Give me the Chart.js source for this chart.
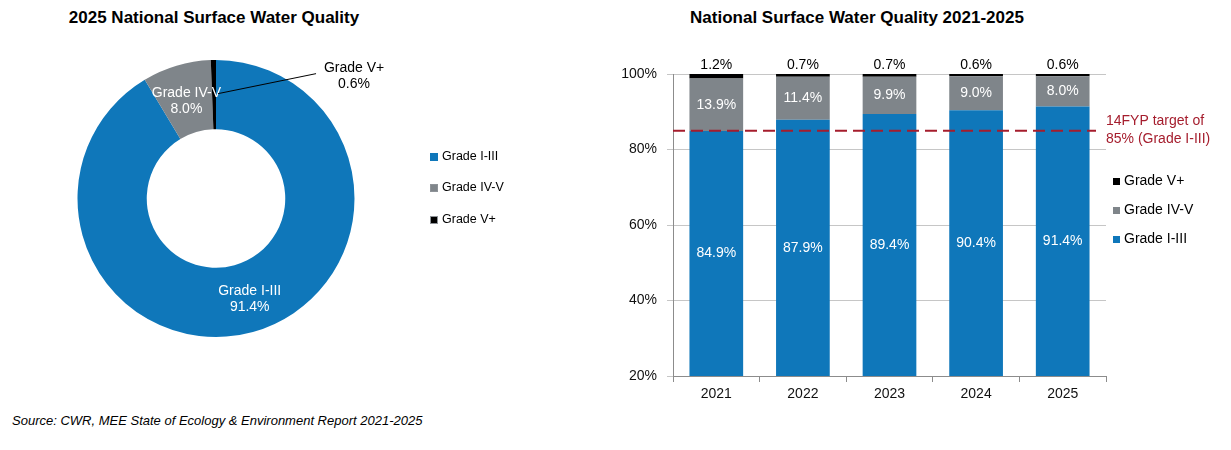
<!DOCTYPE html>
<html>
<head>
<meta charset="utf-8">
<script src="https://cdn.jsdelivr.net/npm/chart.js@4.4.1/dist/chart.umd.min.js"></script>
<style>
  html, body { margin: 0; padding: 0; background: #fff; }
  body { width: 1231px; height: 450px; position: relative; overflow: hidden;
         font-family: "Liberation Sans", Arial, sans-serif; color: #000; }
  .title { position: absolute; top: 8px; font-weight: bold; font-size: 17px; line-height: 20px; text-align: center; }
  .box { position: absolute; }
  .legend { position: absolute; font-size: 12.5px; line-height: 14px; }
  .legend .item { position: absolute; white-space: nowrap; }
  .legend .mark { display: inline-block; vertical-align: middle; margin-right: 4px; box-sizing: border-box; }
  .source { position: absolute; left: 12px; top: 413px; font-size: 13px; font-style: italic; }
</style>
</head>
<body>
<div class="title" style="left:14px;width:400px;">2025 National Surface Water Quality</div>
<div class="title" style="left:657px;width:400px;">National Surface Water Quality 2021-2025</div>

<div class="box" style="left:0;top:40px;width:432px;height:320px;"><canvas id="donut"></canvas></div>
<div class="box" style="left:600px;top:40px;width:631px;height:410px;"><canvas id="bars"></canvas></div>

<div class="legend" id="donutLegend" style="left:430px;top:0;"></div>
<div class="legend" id="barLegend" style="left:1113px;top:0;font-size:14px;"></div>

<div class="source">Source: CWR, MEE State of Ecology &amp; Environment Report 2021-2025</div>

<script>
// data
const grades = ['Grade I-III', 'Grade IV-V', 'Grade V+']
const share2025 = [91.4, 8.0, 0.6]

const years = ['2021', '2022', '2023', '2024', '2025']
const gradeI_III = [84.9, 87.9, 89.4, 90.4, 91.4]
const gradeIV_V = [13.9, 11.4, 9.9, 9.0, 8.0]
const gradeVplus = [1.2, 0.7, 0.7, 0.6, 0.6]

const targetValue = 85
const targetLines = ['14FYP target of', '85% (Grade I-III)']

const blue = '#0F77BA'
const grey = '#7F858A'
const black = '#000000'
const targetRed = '#A51D2D'
const font = '"Liberation Sans", Arial, sans-serif'

// html legends
function buildLegend(el, items, tops, size) {
  items.forEach((it, i) => {
    const d = document.createElement('div')
    d.className = 'item'
    d.style.top = (tops[i] - 7) + 'px'
    d.innerHTML = '<span class="mark" style="width:' + size + 'px;height:' + size + 'px;background:' +
      it.color + ';' + (it.border ? 'border:1px solid ' + it.border + ';' : '') + '"></span>' + it.label
    el.appendChild(d)
  })
}

buildLegend(document.getElementById('donutLegend'), [
  { label: grades[0], color: blue },
  { label: grades[1], color: grey, border: '#8e9398' },
  { label: grades[2], color: black, border: '#8e9398' }
], [156, 187, 219], 8)

buildLegend(document.getElementById('barLegend'), [
  { label: grades[2], color: black },
  { label: grades[1], color: grey },
  { label: grades[0], color: blue }
], [180, 209, 238], 7)

// donut labels
const donutLabels = {
  id: 'donutLabels',
  afterDatasetsDraw(chart) {
    const ctx = chart.ctx
    const arcs = chart.getDatasetMeta(0).data
    ctx.save()
    ctx.font = '14px ' + font
    ctx.textAlign = 'center'
    ctx.textBaseline = 'middle'
    arcs.forEach((arc, i) => {
      const p = arc.getCenterPoint()
      const pct = share2025[i].toFixed(1) + '%'
      if (i < 2) {
        const dx = i === 0 ? 6 : 0
        const dy = i === 0 ? 0 : 1
        ctx.fillStyle = '#ffffff'
        ctx.fillText(grades[i], p.x + dx, p.y - 7 + dy)
        ctx.fillText(pct, p.x + dx, p.y + 9 + dy)
      } else {
        ctx.strokeStyle = '#000'
        ctx.lineWidth = 1
        ctx.beginPath()
        ctx.moveTo(p.x + 4, p.y - 1)
        ctx.lineTo(p.x + 102, p.y - 21)
        ctx.stroke()
        ctx.fillStyle = '#000'
        ctx.fillText(grades[i], p.x + 140, p.y - 27)
        ctx.fillText(pct, p.x + 140, p.y - 11)
      }
    })
    ctx.restore()
  }
}

new Chart(document.getElementById('donut'), {
  type: 'doughnut',
  data: {
    labels: grades,
    datasets: [{
      data: share2025,
      backgroundColor: [blue, grey, black],
      borderWidth: 0,
      hoverOffset: 0
    }]
  },
  options: {
    animation: false,
    responsive: true,
    maintainAspectRatio: false,
    cutout: '50%',
    layout: { padding: { left: 77.5, right: 77.5, top: 20, bottom: 23 } },
    plugins: { legend: { display: false }, tooltip: { enabled: false } }
  },
  plugins: [donutLabels]
})

// bar labels and target line
const barExtras = {
  id: 'barExtras',
  afterDatasetsDraw(chart) {
    const ctx = chart.ctx
    const area = chart.chartArea
    const y = chart.scales.y
    ctx.save()
    ctx.font = '14px ' + font
    ctx.textAlign = 'center'
    ctx.textBaseline = 'middle'

    chart.getDatasetMeta(0).data.forEach((bar, i) => {
      const base = Math.min(bar.base, area.bottom)
      ctx.fillStyle = '#ffffff'
      ctx.fillText(gradeI_III[i].toFixed(1) + '%', bar.x, (bar.y + base) / 2)
    })
    chart.getDatasetMeta(1).data.forEach((bar, i) => {
      ctx.fillStyle = '#ffffff'
      ctx.fillText(gradeIV_V[i].toFixed(1) + '%', bar.x, (bar.y + bar.base) / 2)
    })
    chart.getDatasetMeta(2).data.forEach((bar, i) => {
      ctx.fillStyle = '#000000'
      ctx.fillText(gradeVplus[i].toFixed(1) + '%', bar.x, bar.y - 9)
    })

    const ty = y.getPixelForValue(targetValue)
    ctx.strokeStyle = targetRed
    ctx.lineWidth = 2
    ctx.setLineDash([12, 6])
    ctx.beginPath()
    ctx.moveTo(area.left, ty)
    ctx.lineTo(area.right - 10, ty)
    ctx.stroke()
    ctx.setLineDash([])

    ctx.fillStyle = targetRed
    ctx.textAlign = 'left'
    ctx.fillText(targetLines[0], area.right, ty - 9.5)
    ctx.fillText(targetLines[1], area.right, ty + 8.5)
    ctx.restore()
  }
}

new Chart(document.getElementById('bars'), {
  type: 'bar',
  data: {
    labels: years,
    datasets: [
      { label: grades[0], data: gradeI_III, backgroundColor: blue },
      { label: grades[1], data: gradeIV_V, backgroundColor: grey },
      { label: grades[2], data: gradeVplus, backgroundColor: black }
    ]
  },
  options: {
    animation: false,
    responsive: true,
    maintainAspectRatio: false,
    categoryPercentage: 1,
    barPercentage: 0.62,
    layout: { padding: { top: 34, right: 125, bottom: 34, left: 0 } },
    plugins: { legend: { display: false }, tooltip: { enabled: false } },
    scales: {
      x: {
        stacked: true,
        grid: { drawOnChartArea: false, tickLength: 6, color: '#8c8c8c' },
        border: { color: '#8c8c8c' },
        ticks: { color: '#111', font: { family: font, size: 14 }, padding: 4 },
        afterFit: (s) => { s.height = 40 }
      },
      y: {
        stacked: true,
        min: 20,
        max: 100,
        ticks: {
          stepSize: 20,
          color: '#111',
          font: { family: font, size: 14 },
          padding: 10,
          callback: (v) => v + '%'
        },
        grid: { color: '#c6c6c6', tickLength: 6 },
        border: { color: '#8c8c8c' },
        afterFit: (s) => { s.width = 73 }
      }
    }
  },
  plugins: [barExtras]
})
</script>
</body>
</html>
